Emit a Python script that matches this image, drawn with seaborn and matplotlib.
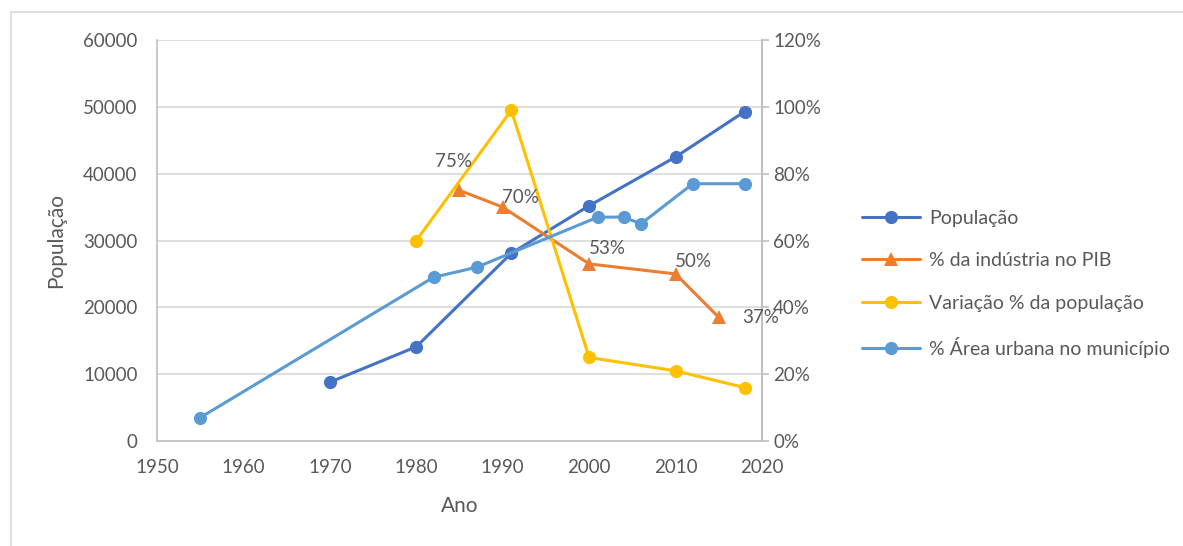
import matplotlib.pyplot as plt
import matplotlib.patches as mpatches
import pandas as pd
import seaborn as sns
from matplotlib.ticker import FuncFormatter

# Data
pop_years = [1970, 1980, 1991, 2000, 2010, 2018]
pop_values = [8800, 14100, 28100, 35200, 42500, 49300]

ind_years = [1985, 1990, 2000, 2010, 2015]
ind_values = [75, 70, 53, 50, 37]
ind_labels = ["75%", "70%", "53%", "50%", "37%"]

var_years = [1980, 1991, 2000, 2010, 2018]
var_values = [60, 99, 25, 21, 16]

urb_years = [1955, 1982, 1987, 2001, 2004, 2006, 2012, 2018]
urb_values = [7, 49, 52, 67, 67, 65, 77, 77]

x_ticks = [1950, 1960, 1970, 1980, 1990, 2000, 2010, 2020]
left_ticks = [0, 10000, 20000, 30000, 40000, 50000, 60000]
right_ticks = [0, 20, 40, 60, 80, 100, 120]

C_POP = "#4472C4"
C_IND = "#ED7D31"
C_VAR = "#FFC000"
C_URB = "#5B9BD5"
TXT = "#595959"
GRID = "#D9D9D9"
AXIS = "#BFBFBF"

sns.set_theme(style="white")
plt.rcParams["font.family"] = ["Lato", "DejaVu Sans"]

fig = plt.figure(figsize=(11.83, 5.46), dpi=100)
ax = fig.add_axes([0.1327, 0.1923, 0.5114, 0.7344])
ax2 = ax.twinx()

pop = pd.DataFrame({"ano": pop_years, "v": pop_values})
ind = pd.DataFrame({"ano": ind_years, "v": ind_values})
var = pd.DataFrame({"ano": var_years, "v": var_values})
urb = pd.DataFrame({"ano": urb_years, "v": urb_values})

lw = 2.2
ms = 9.5
sns.lineplot(data=pop, x="ano", y="v", ax=ax, color=C_POP, marker="o",
             markersize=ms, markeredgewidth=0, linewidth=lw, label="População", legend=False)
sns.lineplot(data=ind, x="ano", y="v", ax=ax2, color=C_IND, marker="^",
             markersize=ms + 1, markeredgewidth=0, linewidth=lw, label="% da indústria no PIB", legend=False)
sns.lineplot(data=var, x="ano", y="v", ax=ax2, color=C_VAR, marker="o",
             markersize=ms, markeredgewidth=0, linewidth=lw, label="Variação % da população", legend=False)
sns.lineplot(data=urb, x="ano", y="v", ax=ax2, color=C_URB, marker="o",
             markersize=ms, markeredgewidth=0, linewidth=lw, label="% Área urbana no município", legend=False)

# data labels on the industry series
offsets = [(-4, 21), (13, 7), (13, 11), (13, 9), (30, 0)]
for x, y, lab, off in zip(ind_years, ind_values, ind_labels, offsets):
    ax2.annotate(lab, (x, y), xytext=off, textcoords="offset points",
                 ha="center", va="center", fontsize=13.5, color=TXT)

ax.set_xlim(1950, 2020)
ax.set_ylim(0, 60000)
ax2.set_ylim(0, 120)
ax.set_xticks(x_ticks)
ax.set_yticks(left_ticks)
ax2.set_yticks(right_ticks)
ax2.yaxis.set_major_formatter(FuncFormatter(lambda v, p: f"{int(v)}%"))

ax.yaxis.grid(True, color=GRID, linewidth=1.2)
ax.set_axisbelow(True)
ax2.grid(False)

for a in (ax, ax2):
    a.spines["top"].set_visible(False)
    for s in ("left", "right", "bottom"):
        a.spines[s].set_color(AXIS)
        a.spines[s].set_linewidth(1.2)
ax2.spines["left"].set_visible(False)
ax2.spines["bottom"].set_visible(False)

ax.tick_params(axis="x", colors=TXT, labelsize=13.5, length=0, pad=13)
ax.tick_params(axis="y", colors=TXT, labelsize=13.5, length=0, pad=14)
ax2.tick_params(axis="y", colors=AXIS, labelcolor=TXT, labelsize=13.5,
                length=5, width=1.2, pad=3, right=True, direction="out")

ax.set_xlabel("Ano", fontsize=15, color=TXT, labelpad=14)
ax.set_ylabel("População", fontsize=15, color=TXT, labelpad=12)
ax2.set_ylabel("")

handles = ax.get_lines()[:1] + ax2.get_lines()[:3]
fig.legend(handles=handles, labels=["População", "% da indústria no PIB",
                                    "Variação % da população", "% Área urbana no município"],
           loc="center left", bbox_to_anchor=(0.722, 0.48), frameon=False,
           fontsize=14, labelcolor=TXT, handlelength=3.0, handletextpad=0.45,
           labelspacing=1.3, borderaxespad=0)

# outer chart border
fig.patches.append(mpatches.Rectangle((0.009, -0.01), 1.0, 0.988, transform=fig.transFigure,
                                      fill=False, edgecolor=GRID, linewidth=1.2))

fig.savefig("out.png", dpi=100, facecolor="white")
